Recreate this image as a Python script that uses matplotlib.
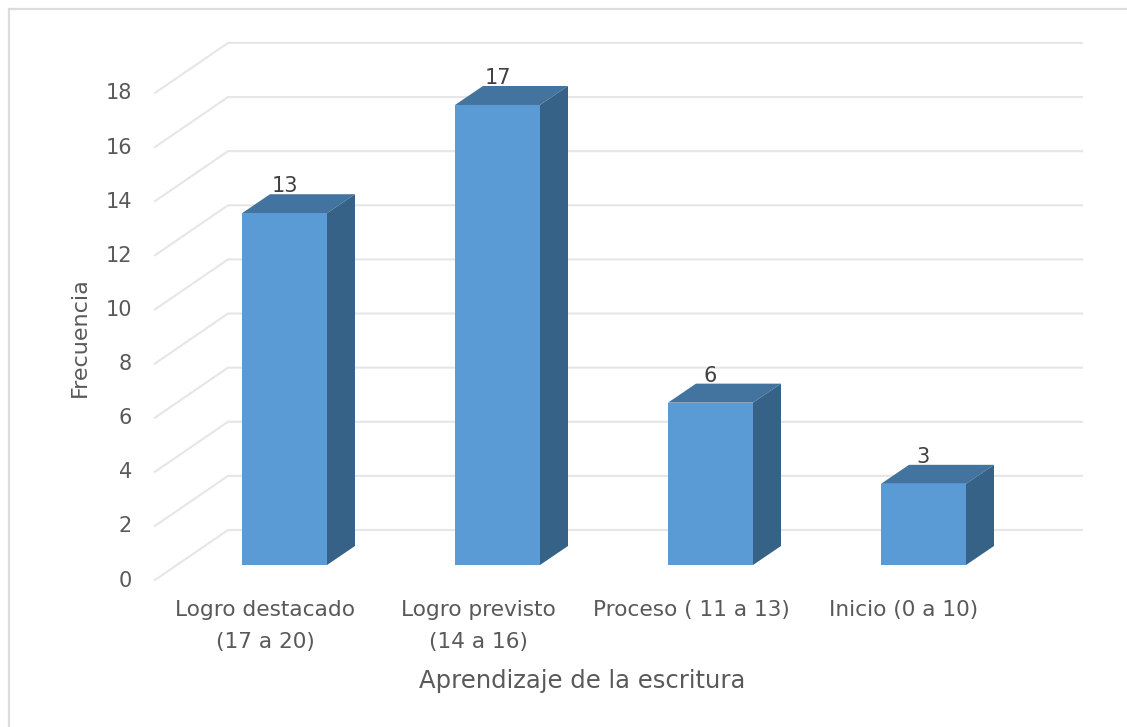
import matplotlib
matplotlib.use("Agg")
import matplotlib.pyplot as plt
from matplotlib.patches import Polygon

categories = ["Logro destacado\n(17 a 20)", "Logro previsto\n(14 a 16)", "Proceso ( 11 a 13)", "Inicio (0 a 10)"]
values = [13, 17, 6, 3]
tick_values = [0, 2, 4, 6, 8, 10, 12, 14, 16, 18]
x_title = "Aprendizaje de la escritura"
y_title = "Frecuencia"

W, H = 1127, 727
PX_X, PX_Y = 213.0, 27.06       # pixels per category / per unit
X0, Y0 = 284.5, 565.0           # pixel position of category 0, value 0
BAR_W = 85 / PX_X
DX, DY = 28 / PX_X, 19 / PX_Y   # bar depth

FONT = "DejaVu Sans"
TXT = "#595959"

fig = plt.figure(figsize=(W / 100, H / 100), dpi=100, facecolor="white")
ax = fig.add_axes([0, 0, 1, 1])
ax.set_xlim(-X0 / PX_X, (W - X0) / PX_X)
ax.set_ylim((Y0 - H) / PX_Y, Y0 / PX_Y)
ax.axis("off")

def fx(px):
    return (px - X0) / PX_X

def fy(py):
    return (Y0 - py) / PX_Y

# outer chart frame
fig.add_artist(plt.Line2D([8.5 / W, 8.5 / W], [0, 1 - 9 / H], color="#dcdcdc", lw=1.6))
fig.add_artist(plt.Line2D([8.5 / W, 1], [1 - 9 / H, 1 - 9 / H], color="#dcdcdc", lw=1.6))

# walls: value v sits at y_back on the back wall and y_side at the left edge
wall_back = fy(530)
wall_side = fy(580)
for v in tick_values:
    ax.plot([fx(155), fx(228), fx(1082)],
            [v + wall_side, v + wall_back, v + wall_back],
            color="#e6e6e6", lw=1.5, solid_joinstyle="miter", zorder=1)
    ax.text(fx(132), v + wall_side - 0.02, str(v), ha="right", va="center",
            fontsize=15, color=TXT, family=FONT)

# bars
for i, (v, cat) in enumerate(zip(values, categories)):
    l, r = i - BAR_W / 2, i + BAR_W / 2
    ax.add_patch(Polygon([(l, v), (l + DX, v + DY), (r + DX, v + DY), (r, v)],
                         closed=True, fc="#43749f", ec="none", zorder=3))
    ax.add_patch(Polygon([(r, 0), (r + DX, DY), (r + DX, v + DY), (r, v)],
                         closed=True, fc="#366287", ec="none", zorder=3))
    ax.bar(i, v, width=BAR_W, color="#5b9bd5", zorder=4)
    ax.annotate(str(v), (i, v), xytext=(0, 27), textcoords="offset pixels",
                ha="center", va="center", fontsize=15, color="#404040",
                family=FONT, zorder=5)
    ax.text(i + fx(265), fy(600), cat, ha="center", va="top", fontsize=15.6,
            color=TXT, family=FONT, linespacing=1.72)

ax.text(fx(582), fy(681), x_title, ha="center", va="center", fontsize=17.5,
        color=TXT, family=FONT)
ax.text(fx(80), fy(337), y_title, ha="center", va="center", rotation=90,
        fontsize=16, color=TXT, family=FONT)

fig.savefig("out.png", dpi=100, facecolor="white")
